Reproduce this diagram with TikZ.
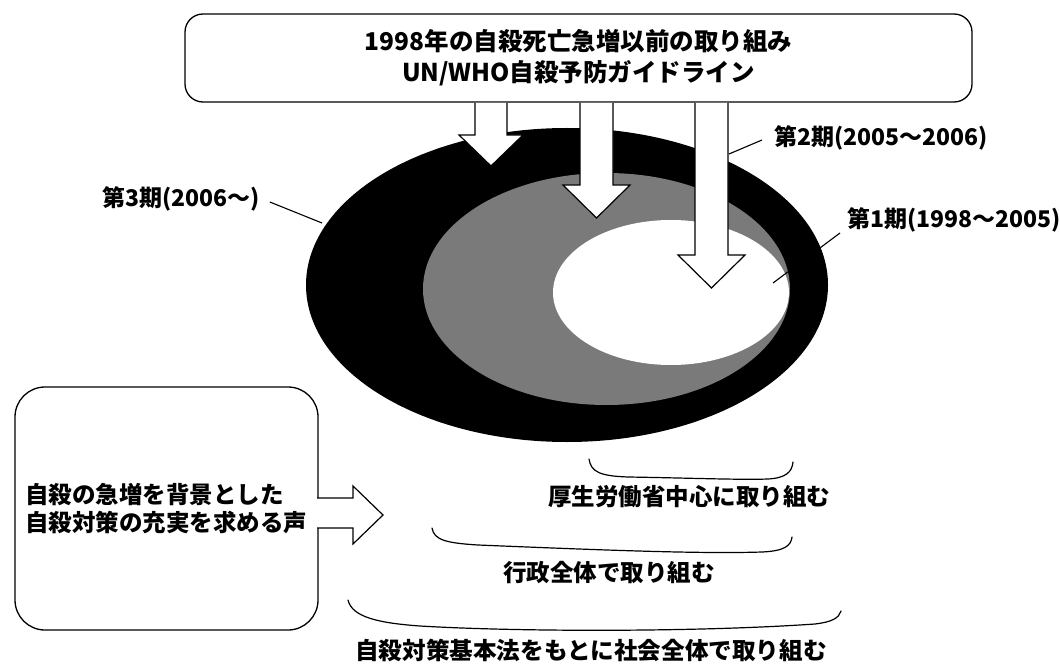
\documentclass[tikz,border=0pt]{standalone}
\usepackage{fontspec}
\setmainfont{Noto Sans CJK JP}
\begin{document}
\begin{tikzpicture}[x=1pt,y=-1pt,
  lbl/.style={font=\fontsize{23}{26}\selectfont\bfseries, inner sep=0pt},
  txt/.style={font=\fontsize{23.5}{28}\selectfont\bfseries, inner sep=0pt},
  boxline/.style={draw=black, line width=1.3pt},
  blockarrow/.style={fill=white, draw=black, line width=1.2pt, line join=miter},
  leader/.style={draw=black, line width=1.1pt},
  bracket/.style={draw=black, line width=1.2pt, line cap=round}]
\useasboundingbox (0,0) rectangle (1060,671);

% rings
\fill[black] (567,285) ellipse [x radius=261, y radius=157];
\fill[black!52] (606.5,289) ellipse [x radius=183.5, y radius=116];
\fill[white] (671,292.5) ellipse [x radius=118, y radius=72.5];

% top box
\node[boxline, rounded corners=18, minimum width=787, minimum height=88,
      align=center, font=\fontsize{24.5}{31}\selectfont\bfseries] (topbox) at (578.5,58)
  {1998年の自殺死亡急増以前の取り組み\\UN/WHO自殺予防ガイドライン};

% arrows from top box
\path[blockarrow] (475,103) -- (475,135) -- (459,135) -- (491,166) -- (523,135) -- (507,135) -- (507,103);
\path[blockarrow] (580,103) -- (580,185) -- (563,185) -- (596.5,218) -- (630,185) -- (613,185) -- (613,103);
\path[blockarrow] (695,103) -- (695,255) -- (678,255) -- (711.5,288) -- (745,255) -- (728,255) -- (728,103);

% period labels
\node[lbl, anchor=west] (p3) at (102,199) {第3期(2006～)};
\node[lbl, anchor=west] (p2) at (774,138) {第2期(2005～2006)};
\node[lbl, anchor=west] (p1) at (847,220) {第1期(1998～2005)};
\coordinate (p3e) at (322,223);
\coordinate (p2e) at (729,154);
\coordinate (p1e) at (773,283);
\draw[leader] ([xshift=10pt,yshift=-3pt]p3.east) -- (p3e);
\draw[leader] ([xshift=-12pt,yshift=-2pt]p2.west) -- (p2e);
\draw[leader] ([xshift=-7pt,yshift=-13pt]p1.west) -- (p1e);

% left box
\node[boxline, rounded corners=30, minimum width=303, minimum height=243,
      text width=283, inner sep=10, align=left,
      font=\fontsize{23.5}{28}\selectfont\bfseries] (leftbox) at (166.5,508.5)
  {自殺の急増を背景とした\\自殺対策の充実を求める声\\[8pt]};
\path[blockarrow] (317,498) -- (353,498) -- (353,486) -- (383,515) -- (353,544) -- (353,528) -- (317,528);

% brackets
\draw[bracket] (589,459) .. controls (591,472) and (600,476) .. (628,477)
  .. controls (690,478) and (740,480) .. (768,479) .. controls (786,478) and (792,472) .. (793,462);
\draw[bracket] (432,528) .. controls (434,540) and (446,543) .. (478,545)
  .. controls (600,550) and (700,554) .. (762,552) .. controls (784,551) and (791,546) .. (792,537);
\draw[bracket] (348,600) .. controls (352,617) and (378,623) .. (420,626)
  .. controls (520,632) and (700,632) .. (815,624) .. controls (832,622) and (839,618) .. (841,611);

\node[txt] (b1) at (689,497) {厚生労働省中心に取り組む};
\node[txt] (b2) at (609,573) {行政全体で取り組む};
\node[font=\fontsize{23.6}{28}\selectfont\bfseries, inner sep=0pt] (b3) at (591,650) {自殺対策基本法をもとに社会全体で取り組む};
\end{tikzpicture}
\end{document}
